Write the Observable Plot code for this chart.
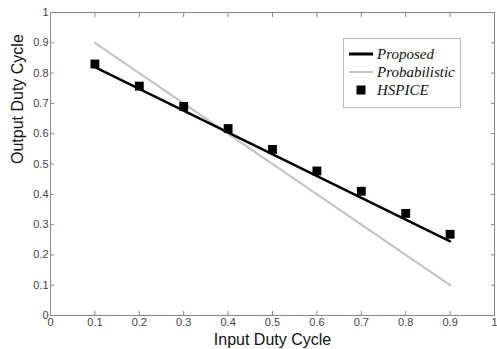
<!DOCTYPE html>
<html><head><meta charset="utf-8">
<script src="https://cdn.jsdelivr.net/npm/d3@7"></script>
<script src="https://cdn.jsdelivr.net/npm/@observablehq/plot@0.6"></script>
<style>
body{margin:0;background:#fff;}
#wrap{position:relative;width:497px;height:349px;}
#legend{position:absolute;left:343px;top:38px;width:118px;height:70px;border:1px solid #bbb;background:#fff;box-sizing:border-box;font-family:"Liberation Serif","DejaVu Serif",serif;font-style:italic;font-size:15px;color:#111;}
#legend .row{position:absolute;left:0;height:18px;line-height:18px;}
#legend svg{position:absolute;left:5px;top:0;}
#legend span{position:absolute;left:33px;white-space:nowrap;}
</style></head>
<body><div id="wrap"><div id="chart"></div><div id="legend"></div></div>
<script>
const xTicks = [0,0.1,0.2,0.3,0.4,0.5,0.6,0.7,0.8,0.9,1];
const yTicks = [0,0.1,0.2,0.3,0.4,0.5,0.6,0.7,0.8,0.9,1];
const inputDuty = [0.1,0.2,0.3,0.4,0.5,0.6,0.7,0.8,0.9];
const hspice = [0.83,0.757,0.69,0.617,0.548,0.477,0.41,0.337,0.268];
const proposedX = [0.1,0.9];
const proposedY = [0.82,0.245];
const probX = [0.1,0.9];
const probY = [0.9,0.1];
const seriesNames = ["Proposed","Probabilistic","HSPICE"];

const hsp = inputDuty.map((x,i)=>({x,y:hspice[i]}));
const prop = proposedX.map((x,i)=>({x,y:proposedY[i]}));
const prob = probX.map((x,i)=>({x,y:probY[i]}));

const chart = Plot.plot({
  width:497, height:349,
  marginLeft:50, marginRight:3, marginTop:12, marginBottom:34,
  style:{fontFamily:"'Liberation Sans', Arial, sans-serif", fontSize:"11px", color:"#444", background:"#fff"},
  x:{domain:[0,1]},
  y:{domain:[0,1]},
  marks:[
    Plot.frame({stroke:"#888"}),
    Plot.axisX({ticks:xTicks, tickSize:-4, tickFormat:d=>String(d), label:null, stroke:"#888", tickPadding:7, fill:"#444"}),
    Plot.axisX({anchor:"top", ticks:xTicks, tickSize:-4, tickFormat:()=>"", label:null, stroke:"#888"}),
    Plot.axisY({ticks:yTicks, tickSize:-4, tickFormat:d=>String(d), label:null, stroke:"#888", tickPadding:6, fill:"#444"}),
    Plot.axisY({anchor:"right", ticks:yTicks, tickSize:-4, tickFormat:()=>"", label:null, stroke:"#888"}),
    Plot.line(prob,{x:"x",y:"y",stroke:"#c4c4c4",strokeWidth:2.2}),
    Plot.line(prop,{x:"x",y:"y",stroke:"#000",strokeWidth:2.5}),
    Plot.dot(hsp,{x:"x",y:"y",symbol:"square",r:5,fill:"#000",stroke:null}),
    Plot.text(["Input Duty Cycle"],{frameAnchor:"bottom",lineAnchor:"middle",dy:24,fontSize:16,fill:"#111"}),
    Plot.text(["Output Duty Cycle"],{frameAnchor:"left",dx:-33,rotate:-90,fontSize:16,fill:"#111"})
  ]
});
document.getElementById("chart").append(chart);

const lg = document.getElementById("legend");
const styles = [
  {type:"line",stroke:"#000",w:3},
  {type:"line",stroke:"#c4c4c4",w:2},
  {type:"square"}
];
seriesNames.forEach((name,i)=>{
  const row = document.createElement("div");
  row.className="row"; row.style.top=(6+i*18)+"px"; row.style.width="116px";
  const s = styles[i];
  const sw = s.type==="line"
    ? `<svg width="24" height="18"><line x1="0" x2="24" y1="9" y2="9" stroke="${s.stroke}" stroke-width="${s.w}"/></svg>`
    : `<svg width="24" height="18"><rect x="7.5" y="4.5" width="9" height="9" fill="#000"/></svg>`;
  row.innerHTML = sw + `<span>${name}</span>`;
  lg.append(row);
});
</script></body></html>
